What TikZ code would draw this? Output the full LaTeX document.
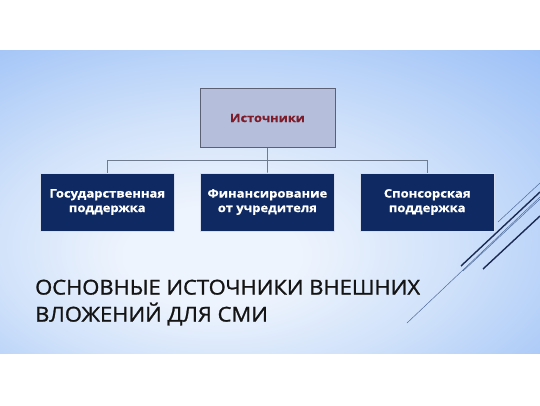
\documentclass[tikz,border=0pt]{standalone}
\usepackage{fontspec}
\setmainfont{Open Sans}
\newfontfamily\boxfont[FakeStretch=1.12,FakeBold=0.6]{Open Sans}
\newfontfamily\titlefont[FakeStretch=1.07,FakeBold=1.3]{Open Sans}
\definecolor{bgin}{HTML}{EEF4FD}
\definecolor{bgmidA}{HTML}{CFE1FA}
\definecolor{bgmid}{HTML}{88B3F5}
\definecolor{bgout}{HTML}{6A9DF1}
\definecolor{topfill}{HTML}{B5BFDB}
\definecolor{topdraw}{HTML}{5B6173}
\definecolor{topText}{HTML}{7D1C2A}
\definecolor{navy}{HTML}{0F2A62}
\definecolor{navyedge}{HTML}{D4DEEE}
\definecolor{connector}{HTML}{6F7B8E}
\definecolor{darkline}{HTML}{1A2A52}
\definecolor{thinline}{HTML}{4E6A9A}
\pgfdeclareradialshading{bgshade}{\pgfpoint{-6bp}{-10bp}}{color(0bp)=(bgin); color(8bp)=(bgin); color(22bp)=(bgmidA); color(48bp)=(bgmid); color(75bp)=(bgout)}
\tikzset{
  topbox/.style={draw=topdraw, line width=0.9pt, fill=topfill, minimum width=135pt, minimum height=59.5pt, inner sep=0pt,
    font=\boxfont\bfseries\fontsize{11.4}{13}\selectfont, text=topText},
  subbox/.style={draw=navyedge, line width=0.8pt, fill=navy, minimum width=134pt, minimum height=58pt, inner sep=0pt,
    align=center, text=white, font=\boxfont\bfseries\fontsize{11.6}{14.5}\selectfont},
  conn/.style={draw=connector, line width=0.8pt},
  dline/.style={draw=darkline, line width=1.4pt},
  tline/.style={draw=thinline, line width=0.5pt},
  titletext/.style={anchor=north west, align=left, inner sep=0pt, text=black!92,
    font=\titlefont\fontsize{20.5}{27}\selectfont}
}
\begin{document}
\begin{tikzpicture}[x=1pt,y=-1pt]
\useasboundingbox (0,0) rectangle (540,405);
\shade[shading=bgshade] (0,50) rectangle (540,353);
% decorative lines
\draw[tline] (407,323) -- (540,197);
\draw[dline] (461,266) -- (540,192);
\draw[tline] (463,271) -- (540,199);
\draw[tline] (498,222) -- (540,183);
\draw[dline] (483,269) -- (540,216);
% boxes
\node[topbox] (src) at (267.5,118) {Источники};
\node[subbox] (gov) at (107.3,202) {Государственная\\поддержка};
\node[subbox] (fin) at (267.4,202) {Финансирование\\от учредителя};
\node[subbox] (spo) at (427.2,202) {Спонсорская\\поддержка};
\coordinate (bus) at (0,160.5);
\draw[conn] (src.south) -- (src.south |- bus);
\draw[conn] (gov.north) -- (gov.north |- bus) -- (spo.north |- bus) -- (spo.north);
\draw[conn] (src.south |- bus) -- (fin.north);
% title
\node[titletext] (title) at (35,279.5) {ОСНОВНЫЕ ИСТОЧНИКИ ВНЕШНИХ\\ВЛОЖЕНИЙ ДЛЯ СМИ};
\end{tikzpicture}
\end{document}
